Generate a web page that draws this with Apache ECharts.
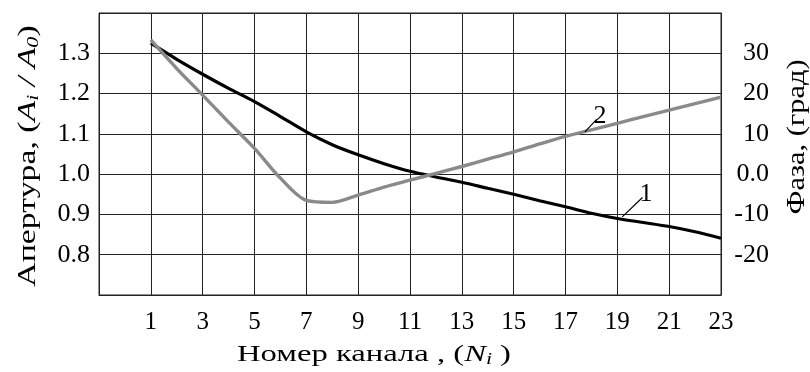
<!DOCTYPE html>
<html><head><meta charset="utf-8">
<script src="https://cdn.jsdelivr.net/npm/echarts@6/dist/echarts.min.js"></script>
<style>html,body{margin:0;padding:0;background:#fff}#c{width:810px;height:372px}</style>
</head><body><div id="c"></div>
<script>
const channels = [1,2,3,4,5,6,7,8,9,10,11,12,13,14,15,16,17,18,19,20,21,22,23];
const aperture = [1.325,1.285,1.248,1.213,1.180,1.143,1.105,1.073,1.048,1.026,1.007,0.993,0.980,0.965,0.950,0.934,0.919,0.903,0.890,0.880,0.870,0.857,0.841];
const phase = [33.3,26.2,19.6,12.9,6.4,-1.0,-6.5,-7.0,-5.2,-3.2,-1.5,0.2,1.9,3.7,5.5,7.5,9.4,11.0,12.6,14.3,15.9,17.5,19.1];
const xCategories = ['-1', '0'].concat(channels.map(String));
const xTickLabels = ['1','3','5','7','9','11','13','15','17','19','21','23'];
const leftTicks = [0.8,0.9,1.0,1.1,1.2,1.3];
const rightTicks = [-20,-10,0,10,20,30];

const FONT = "'Liberation Serif','Times New Roman',serif";
const chart = echarts.init(document.getElementById('c'), null, {renderer:'canvas'});
const near = (arr, v) => arr.some(t => Math.abs(t - v) < 1e-6);

chart.setOption({
  animation: false,
  grid: {left: 99, right: 89, top: 13, bottom: 77, show: true, borderColor: '#222', borderWidth: 1},
  xAxis: [
    {type: 'category', data: xCategories, boundaryGap: false,
     axisLine: {onZero: false, lineStyle: {color: '#222'}},
     axisTick: {show: false},
     axisLabel: {interval: 0, color: '#000', fontFamily: FONT, fontSize: 25, margin: 15,
       formatter: v => xTickLabels.indexOf(v) >= 0 ? v : ''},
     splitLine: {show: true, interval: 1, lineStyle: {color: '#222', width: 1}}},
    {type: 'value', min: -1, max: 23, show: false, axisLine: {onZero: false}, splitLine: {show: false}}
  ],
  yAxis: [
    {type: 'value', min: 0.7, max: 1.4, interval: 0.1, position: 'left',
     axisLine: {show: true, onZero: false, lineStyle: {color: '#222'}}, axisTick: {show: false},
     axisLabel: {color: '#000', fontFamily: FONT, fontSize: 26, margin: 9,
       formatter: v => near(leftTicks, v) ? v.toFixed(1) : ''},
     splitLine: {show: true, lineStyle: {color: '#222', width: 1}}},
    {type: 'value', min: -30, max: 40, interval: 10, position: 'right',
     axisLine: {show: true, onZero: false, lineStyle: {color: '#222'}}, axisTick: {show: false},
     axisLabel: {color: '#000', fontFamily: FONT, fontSize: 26, margin: 48, align: 'right',
       formatter: v => near(rightTicks, v) ? (v === 0 ? '0.0' : String(v)) : ''},
     splitLine: {show: false}}
  ],
  series: [
    {name: '1', type: 'line', xAxisIndex: 1, yAxisIndex: 0, smooth: 0.3, symbol: 'none',
     data: channels.map((c, i) => [c, aperture[i]]),
     lineStyle: {color: '#000', width: 3.2}, itemStyle: {color: '#000'},
     markLine: {silent: true, symbol: 'none', animation: false,
       lineStyle: {color: '#000', width: 1.2, type: 'solid'},
       label: {show: true, position: 'end', formatter: '1', color: '#000', fontFamily: FONT, fontSize: 26, distance: 5},
       data: [[{coord: [19.19, 0.894]}, {coord: [19.97, 0.942]}]]}},
    {name: '2', type: 'line', xAxisIndex: 1, yAxisIndex: 1, smooth: 0.3, symbol: 'none',
     data: channels.map((c, i) => [c, phase[i]]),
     lineStyle: {color: '#8a8a8a', width: 3.4}, itemStyle: {color: '#8a8a8a'},
     markLine: {silent: true, symbol: 'none', animation: false,
       lineStyle: {color: '#000', width: 1.2, type: 'solid'},
       label: {show: true, position: 'end', formatter: '2', color: '#000', fontFamily: FONT, fontSize: 26, distance: 5},
       data: [[{coord: [17.75, 10.5]}, {coord: [18.2, 13.6]}]]}}
  ],
  graphic: [
    {type: 'text', x: 28, y: 156, rotation: Math.PI / 2, scaleX: 1.3,
     style: {text: 'Апертура, ({it|A}{sub|i}{it| / A}{sub|0})', align: 'center', verticalAlign: 'middle',
       fill: '#000', font: "26px " + FONT,
       rich: {it: {fontStyle: 'italic', fontFamily: FONT, fontSize: 26},
              sub: {fontStyle: 'italic', fontFamily: FONT, fontSize: 17, padding: [12, 0, 0, 0]}}}},
    {type: 'text', x: 797, y: 137, rotation: Math.PI / 2, scaleX: 1.17,
     style: {text: 'Фаза, (град)', align: 'center', verticalAlign: 'middle', fill: '#000', font: "26px " + FONT}},
    {type: 'text', x: 374, y: 355, scaleX: 1.36,
     style: {text: 'Номер канала , ({it|N}{sub|i} )', align: 'center', verticalAlign: 'middle',
       fill: '#000', font: "24px " + FONT,
       rich: {it: {fontStyle: 'italic', fontFamily: FONT, fontSize: 24},
              sub: {fontStyle: 'italic', fontFamily: FONT, fontSize: 16, padding: [10, 0, 0, 0]}}}}
  ]
});
</script></body></html>
